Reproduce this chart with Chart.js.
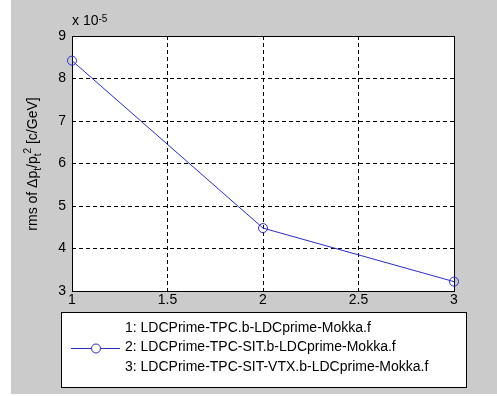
<!DOCTYPE html>
<html>
<head>
<meta charset="utf-8">
<script src="https://cdn.jsdelivr.net/npm/chart.js@4.4.0/dist/chart.umd.min.js"></script>
<style>
  body { margin: 0; background: #fff; }
  #wrap { position: relative; width: 497px; height: 396px; }
  #graph { position: absolute; left: 0; top: 0; }
  #expo {
    position: absolute; left: 72px; top: 12px;
    font: 14px "Liberation Sans", Arial, sans-serif; color: #000; white-space: nowrap;
  }
  #expo sup { font-size: 10px; position: relative; top: -3px; vertical-align: baseline; }
  #ylabel {
    position: absolute; left: -66px; top: 154px; width: 200px; height: 20px;
    line-height: 20px; text-align: center; white-space: nowrap;
    font: 14px "Liberation Sans", Arial, sans-serif; color: #000;
    transform: rotate(-90deg);
  }
  #ylabel sub, #ylabel sup { font-size: 10px; line-height: 0; }
</style>
</head>
<body>
<div id="wrap">
  <canvas id="graph" width="497" height="396"></canvas>
  <div id="expo">x 10<sup>-5</sup></div>
  <div id="ylabel">rms of &Delta;p<sub>t</sub>/p<sub>t</sub><sup>2</sup> [c/GeV]</div>
</div>
<script>
// values (y in units of 1e-5 c/GeV)
var xValues = [1, 2, 3];
var rmsValues = [8.42, 4.48, 3.22];
var xTicks = [1, 1.5, 2, 2.5, 3];
var yTicks = [3, 4, 5, 6, 7, 8, 9];
var legendLabels = [
  "1: LDCPrime-TPC.b-LDCprime-Mokka.f",
  "2: LDCPrime-TPC-SIT.b-LDCprime-Mokka.f",
  "3: LDCPrime-TPC-SIT-VTX.b-LDCprime-Mokka.f"
];

var lineColor = "#2a2ad0";
var font = "'Liberation Sans', Arial, sans-serif";

var points = xValues.map(function(x, i) { return { x: x, y: rmsValues[i] }; });

// figure background, white axes area
var background = {
  id: "background",
  beforeDraw: function(chart) {
    var ctx = chart.ctx, a = chart.chartArea;
    ctx.save();
    ctx.fillStyle = "#fff";
    ctx.fillRect(0, 0, chart.width, chart.height);
    ctx.fillStyle = "#cbcbcb";
    ctx.fillRect(11, 0, chart.width - 11, 394);
    ctx.fillStyle = "#fff";
    ctx.fillRect(a.left, a.top, a.right - a.left, a.bottom - a.top);
    ctx.restore();
  },
  beforeDatasetsDraw: function(chart) {
    var ctx = chart.ctx, a = chart.chartArea;
    ctx.save();
    ctx.strokeStyle = "#000";
    ctx.lineWidth = 1;
    ctx.strokeRect(Math.round(a.left) + 0.5, Math.round(a.top) + 0.5,
      Math.round(a.right - a.left), Math.round(a.bottom - a.top));
    ctx.restore();
  }
};

// boxed legend under the axes
var legendBox = {
  id: "legendBox",
  afterDraw: function(chart) {
    var ctx = chart.ctx;
    ctx.save();
    ctx.fillStyle = "#fff";
    ctx.fillRect(61.5, 312.5, 405, 75);
    ctx.strokeStyle = "#000";
    ctx.lineWidth = 1;
    ctx.strokeRect(61.5, 312.5, 405, 75);
    ctx.font = "14px " + font;
    ctx.textBaseline = "middle";
    chart.data.datasets.forEach(function(ds, i) {
      var y = 328 + i * 19.5;
      if (ds.data.length) {
        ctx.strokeStyle = ds.borderColor;
        ctx.beginPath();
        ctx.moveTo(71, Math.round(y) + 0.5);
        ctx.lineTo(120, Math.round(y) + 0.5);
        ctx.stroke();
        ctx.beginPath();
        ctx.arc(96, Math.round(y) + 0.5, ds.pointRadius, 0, Math.PI * 2);
        ctx.fillStyle = "#fff";
        ctx.fill();
        ctx.stroke();
      }
      ctx.fillStyle = "#000";
      ctx.fillText(ds.label, 125, y);
    });
    ctx.restore();
  }
};

function plainLabel(value) { return String(value); }

var graph = document.getElementById("graph");
var myChart = new Chart(graph, {
  type: "line",
  data: {
    datasets: [
      { label: legendLabels[0], data: [], borderColor: lineColor, pointRadius: 4.5 },
      {
        label: legendLabels[1],
        data: points,
        borderColor: lineColor,
        borderWidth: 1,
        pointRadius: 4.5,
        pointBorderWidth: 1,
        pointBackgroundColor: "rgba(0,0,0,0)",
        pointBorderColor: lineColor,
        tension: 0,
        clip: false
      },
      { label: legendLabels[2], data: [], borderColor: lineColor, pointRadius: 4.5 }
    ]
  },
  options: {
    responsive: false,
    animation: false,
    events: [],
    layout: { padding: { left: 0, top: 36, right: 43, bottom: 0 } },
    plugins: { legend: { display: false }, tooltip: { enabled: false } },
    scales: {
      x: {
        type: "linear",
        min: 1,
        max: 3,
        afterBuildTicks: function(axis) { axis.ticks = xTicks.map(function(v) { return { value: v }; }); },
        afterFit: function(axis) { axis.height = 105; },
        ticks: { color: "#000", font: { family: font, size: 14 }, padding: 1, maxRotation: 0, autoSkip: false, callback: plainLabel },
        grid: { color: "#000", lineWidth: 1, drawTicks: false },
        border: { display: false, dash: [4, 3] }
      },
      y: {
        type: "linear",
        min: 3,
        max: 9,
        afterBuildTicks: function(axis) { axis.ticks = yTicks.map(function(v) { return { value: v }; }); },
        afterFit: function(axis) { axis.width = 72; },
        ticks: { color: "#000", font: { family: font, size: 14 }, padding: 6, callback: plainLabel },
        grid: { color: "#000", lineWidth: 1, drawTicks: false },
        border: { display: false, dash: [4, 3] }
      }
    }
  },
  plugins: [background, legendBox]
});
</script>
</body>
</html>
